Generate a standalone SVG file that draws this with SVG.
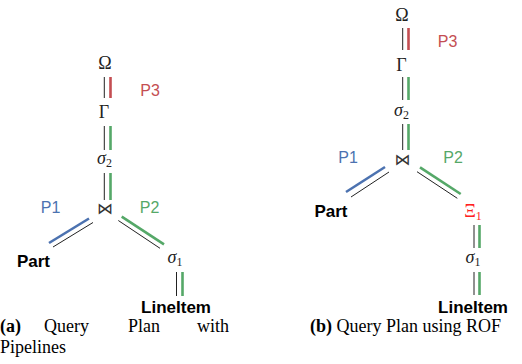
<svg xmlns="http://www.w3.org/2000/svg" width="522" height="364" viewBox="0 0 522 364">
<style>
.op{font-family:"Liberation Serif",serif;font-size:18px;fill:#222;text-anchor:middle}
.it{font-style:italic}
.sub{font-size:12px;font-style:normal}
.join{font-family:"DejaVu Sans",sans-serif;font-size:16px;fill:#333;text-anchor:middle}
.rel{font-family:"Liberation Sans",sans-serif;font-size:17px;font-weight:bold;fill:#000;text-anchor:middle}
.pl{font-family:"Liberation Sans",sans-serif;font-size:16px;text-anchor:middle}
.cap{font-family:"Liberation Serif",serif;font-size:18px;fill:#000}
.k{stroke:#222;stroke-width:1;fill:none}
.b{stroke:#4C72B0;stroke-width:2.6;fill:none}
.g{stroke:#55A868;stroke-width:2.6;fill:none}
.r{stroke:#C44E52;stroke-width:2.6;fill:none}
</style>
<g id="connectors">
<line class="k" x1="104.3" y1="77" x2="104.3" y2="98"/><line class="r" x1="110.5" y1="77" x2="110.5" y2="98"/>
<line class="k" x1="104.3" y1="126" x2="104.3" y2="150"/><line class="g" x1="110.5" y1="126" x2="110.5" y2="150"/>
<line class="k" x1="104.3" y1="173" x2="104.3" y2="200"/><line class="g" x1="110.5" y1="173" x2="110.5" y2="200"/>
<line class="b" x1="89" y1="218.5" x2="49" y2="243"/><line class="k" x1="93" y1="222.5" x2="53" y2="247"/>
<line class="g" x1="121.7" y1="216.7" x2="164" y2="244.3"/><line class="k" x1="118.3" y1="220.5" x2="160" y2="248.3"/>
<line class="k" x1="176.5" y1="272" x2="176.5" y2="296"/><line class="g" x1="182.5" y1="272" x2="182.5" y2="296"/>
<line class="k" x1="402.7" y1="28" x2="402.7" y2="50"/><line class="r" x1="408.5" y1="28" x2="408.5" y2="50"/>
<line class="k" x1="402.7" y1="77" x2="402.7" y2="100"/><line class="g" x1="408.5" y1="77" x2="408.5" y2="100"/>
<line class="k" x1="402.7" y1="124" x2="402.7" y2="150"/><line class="g" x1="408.5" y1="124" x2="408.5" y2="150"/>
<line class="b" x1="385" y1="167" x2="346" y2="192"/><line class="k" x1="389" y1="172" x2="351" y2="197"/>
<line class="g" x1="420" y1="167.3" x2="460.7" y2="194"/><line class="k" x1="417" y1="171.7" x2="457.3" y2="198.3"/>
<line class="k" x1="474" y1="225" x2="474" y2="248"/><line class="g" x1="479.5" y1="225" x2="479.5" y2="248"/>
<line class="k" x1="474" y1="272" x2="474" y2="295"/><line class="g" x1="479.5" y1="272" x2="479.5" y2="295"/>
</g>
<g id="a-omega"><text class="op" x="105" y="69">Ω</text></g>
<g id="a-p3"><text class="pl" x="150" y="96" fill="#C44E52">P3</text></g>
<g id="a-gamma"><text class="op" x="104" y="118">Γ</text></g>
<g id="a-sigma2"><text class="op it" x="104.5" y="164">σ<tspan class="sub" dy="3">2</tspan></text></g>
<g id="a-join"><text class="join" x="105" y="214">⋈</text></g>
<g id="a-p1"><text class="pl" x="50.5" y="213" fill="#4C72B0">P1</text></g>
<g id="a-p2"><text class="pl" x="149.5" y="213" fill="#55A868">P2</text></g>
<g id="a-part"><text class="rel" x="33.5" y="267">Part</text></g>
<g id="a-sigma1"><text class="op it" x="175" y="263">σ<tspan class="sub" dy="3">1</tspan></text></g>
<g id="a-lineitem"><text class="rel" x="176" y="313">LineItem</text></g>
<g id="b-omega"><text class="op" x="402" y="21">Ω</text></g>
<g id="b-p3"><text class="pl" x="447.5" y="47" fill="#C44E52">P3</text></g>
<g id="b-gamma"><text class="op" x="401.5" y="71">Γ</text></g>
<g id="b-sigma2"><text class="op it" x="401.5" y="116">σ<tspan class="sub" dy="3">2</tspan></text></g>
<g id="b-join"><text class="join" x="402.5" y="165">⋈</text></g>
<g id="b-p1"><text class="pl" x="348" y="163" fill="#4C72B0">P1</text></g>
<g id="b-p2"><text class="pl" x="453" y="163" fill="#55A868">P2</text></g>
<g id="b-part"><text class="rel" x="331" y="217">Part</text></g>
<g id="b-xi1"><text class="op" x="473" y="217" style="fill:#FF2020">Ξ<tspan class="sub" dy="3">1</tspan></text></g>
<g id="b-sigma1"><text class="op it" x="473" y="263">σ<tspan class="sub" dy="3">1</tspan></text></g>
<g id="b-lineitem"><text class="rel" x="473" y="313">LineItem</text></g>
<g id="captions">
<text class="cap" y="332"><tspan x="0" font-weight="bold">(a)</tspan><tspan x="44">Query</tspan><tspan x="128">Plan</tspan><tspan x="197">with</tspan></text>
<text class="cap" x="0" y="353">Pipelines</text>
<text class="cap" x="310" y="332"><tspan font-weight="bold">(b)</tspan> Query Plan using ROF</text>
</g>
</svg>
